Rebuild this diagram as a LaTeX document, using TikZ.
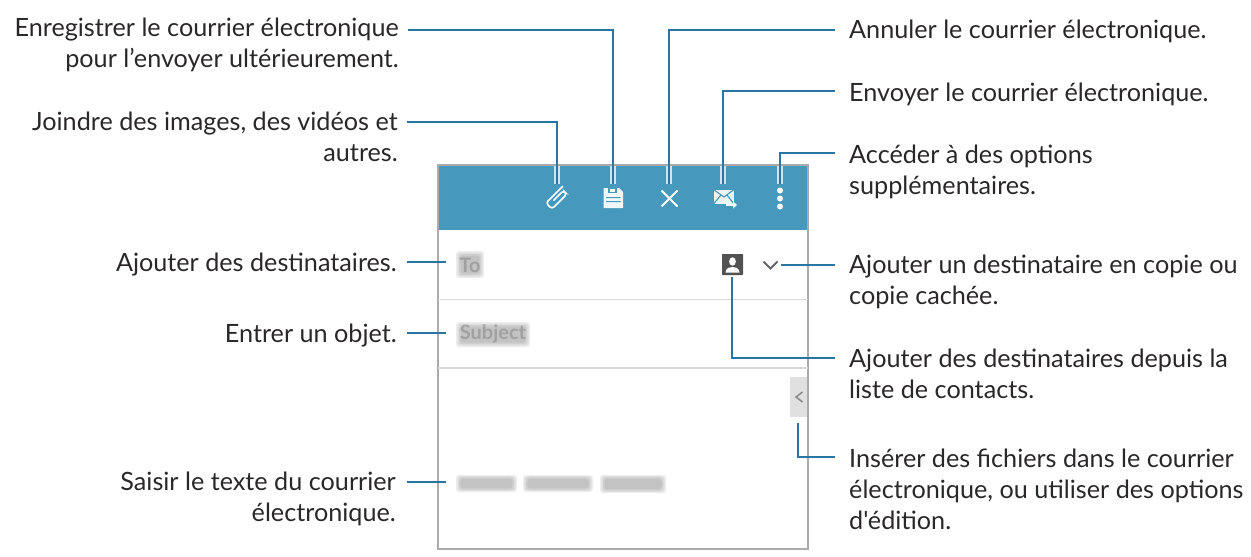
\documentclass[tikz,border=0pt]{standalone}
\usepackage{fontspec}
\newfontfamily\lf{Lato}
\definecolor{leadblue}{HTML}{2B74A4}
\definecolor{headblue}{HTML}{4698BC}
\definecolor{txt}{HTML}{2A2728}
\definecolor{frameg}{HTML}{ABABAB}
\newcommand{\fl}{\rule{0pt}{24pt}}
\tikzset{
  lbl/.style={inner sep=0pt,text=txt,font=\lf\fontsize{25.2}{31.3}\selectfont},
  lblL/.style={lbl,align=right,anchor=north east},
  lblR/.style={lbl,align=left,anchor=north west},
  lead/.style={draw=leadblue,line width=2pt},
  halo/.style={draw=white,line width=5.5pt,opacity=.75},
  spot/.style={inner sep=0pt,minimum width=20pt,minimum height=28pt},
  ico/.style={draw=white,line width=1.9pt},
  blob/.style={fill=black!55,opacity=.13,rounded corners=3pt},
}
\begin{document}
\begin{tikzpicture}[x=1pt,y=-1pt]
\useasboundingbox (0,0) rectangle (1251,557);
% panel
\fill[headblue] (438,165) rectangle (808,230);
\draw[frameg,line width=1.3pt] (438,165) -- (438,549) -- (808,549) -- (808,165) -- cycle;
\draw[black!15,line width=1pt] (438,299) -- (808,299);
\draw[black!15,line width=1.2pt] (438,368) -- (808,368);
\fill[black!12] (790,377) rectangle (807.3,417);
% icon anchors
\node[spot] (clip) at (557,198) {};
\node[spot] (save) at (613,198) {};
\node[spot] (cancel) at (669,198) {};
\node[spot] (send) at (723,198) {};
\node[spot] (more) at (780,198) {};
\node[inner sep=0pt,minimum width=24pt,minimum height=24pt] (contact) at (732,265) {};
\node[inner sep=0pt,minimum width=20pt,minimum height=12pt] (chev) at (771,265) {};
\node[inner sep=0pt,minimum width=18pt,minimum height=46pt] (tab) at (798,400) {};
% icons
\begin{scope}[shift={(558,198)},rotate=45]
\draw[ico,line width=1.6pt,rounded corners=2.8pt] (-5,-1.5) -- (9,-1.5) -- (9,3.5) -- (-12,3.5) -- (-12,-5) -- (12,-5);
\end{scope}
\fill[white,opacity=.93] (603.5,188) -- (619,188) -- (623,192) -- (623,208) -- (603.5,208) -- cycle;
\fill[headblue] (608,188) rectangle (617,193);
\fill[white] (610,188.5) rectangle (615,191.5);
\fill[headblue] (606,197) rectangle (620.5,198.2) (606,201) rectangle (620.5,202.2);
\draw[ico,line width=2.1pt] (661.5,190.5) -- (677.5,206.5) (677.5,190.5) -- (661.5,206.5);
\fill[white,opacity=.9] (713.5,189.5) rectangle (734,204);
\draw[headblue,line width=1.1pt] (713.5,189.5) -- (724,197) -- (734,189.5) (713.5,204) -- (721,195) (734,204) -- (727,195);
\draw[white,line width=1.6pt] (726,205) -- (734,205);
\fill[white] (733,201.5) -- (737,205) -- (733,208.5) -- cycle;
\fill[white] (780,190.5) circle (3) (780,198.5) circle (3) (780,206.5) circle (3);
\fill[black!68,rounded corners=.6pt] (722,254) rectangle (743,275);
\fill[white] (732.5,261.5) ellipse (3.4 and 4.2);
\fill[white] (725.5,272.5) .. controls (726,267.5) and (730,267) .. (732.5,267) .. controls (735,267) and (739,267.5) .. (739.5,272.5) -- cycle;
\draw[black!60,line width=2.1pt] (763.5,261.5) -- (770.5,268.5) -- (777.5,261.5);
\draw[black!45,line width=1.6pt] (802.5,392) -- (796,397) -- (802.5,402);
% blurred field contents
\foreach \g in {0,1.5,3,4.5}{
  \fill[blob] (456+\g,251+\g) rectangle (484-\g,278-\g);
  \fill[blob] (456+\g,322+\g) rectangle (530-\g,347-\g);
  \fill[blob] (456+\g,475+\g*.8) rectangle (517-\g,492-\g*.8);
  \fill[blob] (523+\g,475+\g*.8) rectangle (593-\g,492-\g*.8);
  \fill[blob] (600+\g,475+\g*.8) rectangle (666-\g,493-\g*.8);
}
\node[inner sep=0pt,text=black!50,font=\lf\fontsize{20}{20}\bfseries\selectfont,opacity=.5] (toF) at (470,265) {To};
\node[inner sep=0pt,text=black!50,font=\lf\fontsize{20}{20}\bfseries\selectfont,opacity=.5] (subjF) at (493,334) {Subject};
% labels
\node[lblL] (enr) at (399,12) {\fl Enregistrer le courrier électronique\\pour l’envoyer ultérieurement.};
\node[lblL] (joi) at (398,106) {\fl Joindre des images, des vidéos et\\autres.};
\node[lblL] (aj) at (397,247) {\fl Ajouter des destinataires.};
\node[lblL] (ent) at (397,318) {\fl Entrer un objet.};
\node[lblL] (sai) at (396,466) {\fl Saisir le texte du courrier\\électronique.};
\node[lblR] (ann) at (849,14) {\fl Annuler le courrier électronique.};
\node[lblR] (env) at (849,77) {\fl Envoyer le courrier électronique.};
\node[lblR] (acc) at (849,139) {\fl Accéder à des options\\supplémentaires.};
\node[lblR] (cop) at (849,249) {\fl Ajouter un destinataire en copie ou\\copie cachée.};
\node[lblR] (lst) at (849,343) {\fl Ajouter des destinataires depuis la\\liste de contacts.};
\node[lblR] (ins) at (849,443) {\fl Insérer des fichiers dans le courrier\\électronique, ou utiliser des options\\d'édition.};
% halos
\foreach \n in {clip,save,cancel,send,more}{\draw[halo] (\n.north) -- (\n.north |- 0,166);}
% connectors
\coordinate (a1) at (408,30); \coordinate (a2) at (407,122);
\coordinate (a3) at (407,262); \coordinate (e3) at (446,262);
\coordinate (a4) at (407,333); \coordinate (e4) at (446,333);
\coordinate (a5) at (407,482); \coordinate (e5) at (446,482);
\coordinate (b1) at (835,30); \coordinate (b2) at (835,91); \coordinate (b3) at (835,153);
\coordinate (b4) at (835,265); \coordinate (b5) at (835,358); \coordinate (b6) at (835,457);
\draw[lead] (a1) -| (save.north);
\draw[lead] (a2) -| (clip.north);
\draw[lead] (a3) -- (e3);
\draw[lead] (a4) -- (e4);
\draw[lead] (a5) -- (e5);
\draw[lead] (b1) -| (cancel.north);
\draw[lead] (b2) -| (send.north);
\draw[lead] (b3) -| (more.north);
\draw[lead] (b4) -- (chev.east);
\draw[lead] (b5) -| (contact.south);
\draw[lead] (b6) -| (tab.south);
\end{tikzpicture}
\end{document}
